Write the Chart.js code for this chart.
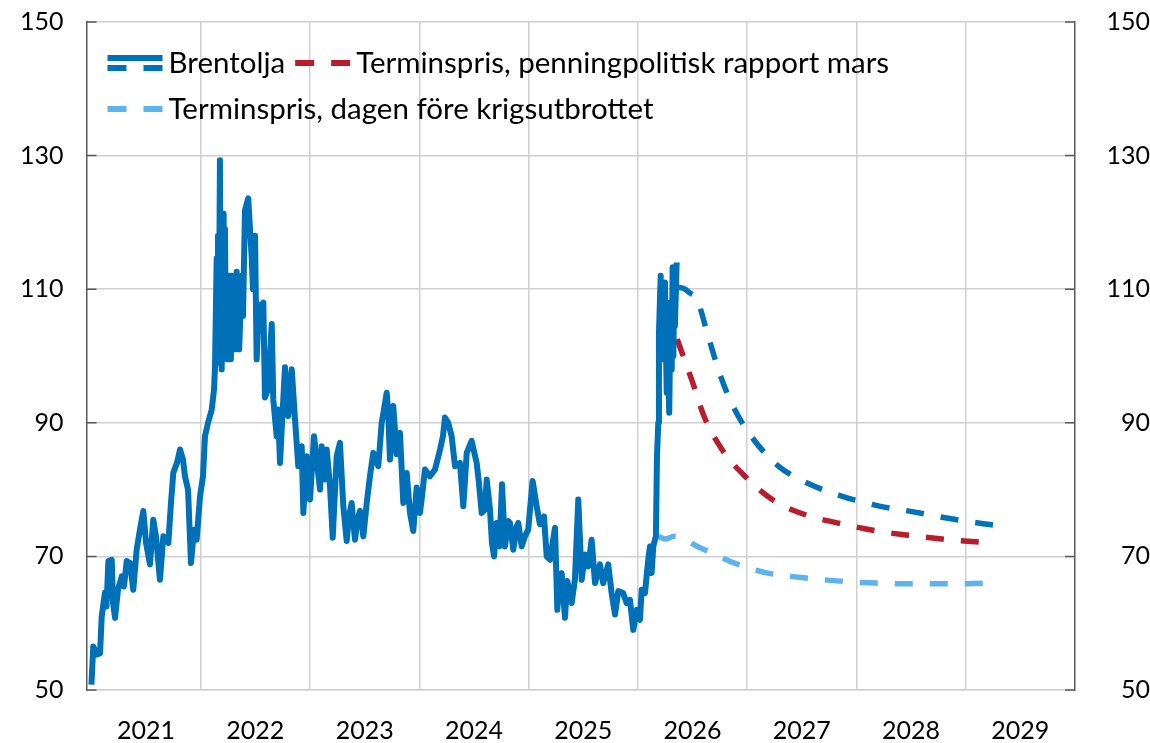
<!DOCTYPE html>
<html>
<head>
<meta charset="utf-8">
<script src="https://cdn.jsdelivr.net/npm/chart.js@4.4.1/dist/chart.umd.min.js"></script>
<style>
  html, body { margin: 0; padding: 0; background: #fff; }
  #wrap { width: 1150px; height: 743px; }
</style>
</head>
<body>
<div id="wrap"><canvas id="chart"></canvas></div>
<script>
// Brent crude, USD per barrel
const brentDates = [2021.000, 2021.017, 2021.051, 2021.079, 2021.094, 2021.124, 2021.138, 2021.155, 2021.186, 2021.198,
  2021.216, 2021.243, 2021.277, 2021.298, 2021.323, 2021.353, 2021.383, 2021.414, 2021.444, 2021.475,
  2021.500, 2021.536, 2021.566, 2021.591, 2021.627, 2021.658, 2021.704, 2021.728, 2021.749, 2021.783,
  2021.811, 2021.838, 2021.856, 2021.884, 2021.911, 2021.939, 2021.963, 2021.994, 2022.021, 2022.039,
  2022.067, 2022.101, 2022.122, 2022.131, 2022.146, 2022.150, 2022.158, 2022.165, 2022.176, 2022.181,
  2022.186, 2022.192, 2022.198, 2022.204, 2022.210, 2022.216, 2022.222, 2022.230, 2022.236, 2022.241,
  2022.250, 2022.258, 2022.268, 2022.276, 2022.284, 2022.292, 2022.305, 2022.315, 2022.329, 2022.336,
  2022.344, 2022.352, 2022.375, 2022.387, 2022.405, 2022.435, 2022.451, 2022.467, 2022.478, 2022.497,
  2022.512, 2022.524, 2022.542, 2022.573, 2022.588, 2022.616, 2022.650, 2022.664, 2022.695, 2022.707,
  2022.726, 2022.744, 2022.771, 2022.801, 2022.833, 2022.863, 2022.893, 2022.924, 2022.939, 2022.970,
  2023.000, 2023.037, 2023.064, 2023.092, 2023.107, 2023.137, 2023.153, 2023.183, 2023.208, 2023.244,
  2023.274, 2023.305, 2023.336, 2023.357, 2023.381, 2023.412, 2023.430, 2023.457, 2023.488, 2023.519,
  2023.549, 2023.579, 2023.625, 2023.656, 2023.677, 2023.702, 2023.714, 2023.732, 2023.762, 2023.793,
  2023.823, 2023.854, 2023.885, 2023.915, 2023.945, 2023.976, 2024.006, 2024.025, 2024.052, 2024.098,
  2024.144, 2024.190, 2024.217, 2024.235, 2024.265, 2024.296, 2024.327, 2024.372, 2024.403, 2024.434,
  2024.479, 2024.525, 2024.546, 2024.571, 2024.601, 2024.617, 2024.647, 2024.665, 2024.684, 2024.708,
  2024.734, 2024.757, 2024.784, 2024.814, 2024.830, 2024.860, 2024.891, 2024.906, 2024.937, 2024.967,
  2024.997, 2025.013, 2025.037, 2025.074, 2025.104, 2025.141, 2025.166, 2025.196, 2025.242, 2025.263,
  2025.278, 2025.303, 2025.333, 2025.354, 2025.394, 2025.424, 2025.455, 2025.486, 2025.516, 2025.546,
  2025.577, 2025.608, 2025.653, 2025.683, 2025.729, 2025.760, 2025.791, 2025.821, 2025.866, 2025.898,
  2025.928, 2025.958, 2025.989, 2026.019, 2026.035, 2026.065, 2026.095, 2026.111, 2026.126, 2026.141,
  2026.165, 2026.175, 2026.187, 2026.193, 2026.209, 2026.215, 2026.222, 2026.232, 2026.248, 2026.264,
  2026.270, 2026.280, 2026.287, 2026.300, 2026.310, 2026.318, 2026.325, 2026.332, 2026.339, 2026.355];
const brentValues = [50.8, 56.5, 55.3, 55.5, 61, 64.6, 62.5, 69.3, 69.5, 63,
  60.8, 65, 67, 65.5, 69.3, 69, 65, 71, 74, 76.8,
  72, 68.8, 75.5, 73, 66.5, 73, 72, 78, 82.5, 84,
  86, 84.5, 82, 80, 69, 74, 72.5, 79, 82, 88,
  90, 92, 95, 98.5, 114.6, 99, 118, 100, 129.3, 99,
  116, 98, 112, 103, 121.3, 100, 119, 101, 110, 99.5,
  112, 100, 109, 99.5, 112, 102, 110, 101, 112.6, 103,
  108, 101, 112, 106, 121.8, 123.6, 119, 114.6, 110, 118,
  99.5, 104, 107.5, 108, 93.8, 95, 104.8, 93.5, 88, 92,
  84, 90, 98.3, 91, 98, 90.5, 83.5, 86.5, 76.5, 85,
  78.5, 88, 84, 80, 86.5, 81.5, 86, 80.5, 72.8, 85,
  87, 77.5, 72.3, 76, 78, 72.5, 75, 76.8, 73, 78,
  82, 85.5, 83.5, 90, 92, 94.5, 92, 84.5, 92.5, 85.3,
  88.5, 78, 82.5, 76.5, 73.8, 80.3, 76.5, 79, 83, 82,
  83, 86, 88, 90.8, 90, 88, 83.5, 84, 77.5, 85.5,
  87.3, 84, 81, 76.5, 77, 81.5, 77, 72, 70, 75,
  71.5, 80.8, 71.5, 75.3, 75, 71, 74.5, 75, 71.5, 73,
  74, 77, 81.3, 77.5, 74.8, 76, 70, 69.5, 74.3, 62,
  65, 67.5, 60.8, 66.3, 63, 66.5, 78.5, 66.5, 70.3, 68.5,
  72.5, 66, 68.8, 66, 68.8, 64.5, 61.3, 64.8, 64.5, 63,
  63.5, 59, 62, 60.5, 65, 64.5, 69.5, 71.5, 67.5, 71.5,
  73, 85, 90, 103.5, 112, 100, 110, 99.5, 111, 94.5,
  106, 96, 91.5, 108, 98, 113.3, 100, 110, 104.5, 114];

// Futures curve now (blue dashed, part of "Brentolja")
const futuresNowDates = [2026.352, 2026.42, 2026.48, 2026.54, 2026.65, 2026.75, 2026.87, 2027.06, 2027.28, 2027.56, 2027.87, 2028.19, 2028.51, 2028.84, 2029.16, 2029.25];
const futuresNowValues = [110.3, 110.1, 109.4, 108.5, 102.6, 97.3, 92.5, 87.5, 83.6, 80.9, 79.0, 77.6, 76.7, 75.7, 74.9, 74.7];

// Futures, monetary policy report March (red dashed)
const futuresMarchDates = [2026.36, 2026.50, 2026.61, 2026.77, 2026.98, 2027.24, 2027.54, 2027.86, 2028.19, 2028.51, 2028.84, 2029.16, 2029.25];
const futuresMarchValues = [102.5, 96.1, 90.8, 86.0, 82.0, 78.4, 76.2, 74.9, 73.8, 73.1, 72.5, 72.1, 72.0];

// Futures, day before the outbreak of war (light blue dashed)
const futuresPreWarDates = [2026.19, 2026.25, 2026.33, 2026.57, 2026.90, 2027.19, 2027.52, 2027.85, 2028.18, 2028.51, 2028.83, 2029.16, 2029.25];
const futuresPreWarValues = [73.0, 72.6, 73.0, 71.3, 68.9, 67.5, 66.8, 66.3, 66.0, 65.9, 65.9, 66.0, 66.1];

const yearLabels = ['2021', '2022', '2023', '2024', '2025', '2026', '2027', '2028', '2029'];
const yTicks = [50, 70, 90, 110, 130, 150];

const legendRows = [
  [{ label: 'Brentolja', key: 'brent' }, { label: 'Terminspris, penningpolitisk rapport mars', key: 'march' }],
  [{ label: 'Terminspris, dagen före krigsutbrottet', key: 'prewar' }]
];

const BLUE = '#0070b8';
const RED = '#b81d2e';
const LIGHT = '#5cb3ee';
const FONT = 'Lato';

const toPoints = (xs, ys) => xs.map((x, i) => ({ x: x, y: ys[i] }));

// inward tick marks on both value axes
const axisTicks = {
  id: 'axisTicks',
  afterDraw(chart) {
    const { ctx, chartArea: a, scales: { y } } = chart;
    ctx.save();
    ctx.strokeStyle = '#595959';
    ctx.lineWidth = 1.5;
    yTicks.forEach(v => {
      const py = y.getPixelForValue(v);
      ctx.beginPath();
      ctx.moveTo(a.left, py); ctx.lineTo(a.left + 10, py);
      ctx.moveTo(a.right - 10, py); ctx.lineTo(a.right, py);
      ctx.stroke();
    });
    ctx.restore();
  }
};

// legend drawn inside the plot area
const innerLegend = {
  id: 'innerLegend',
  afterDraw(chart) {
    const { ctx, chartArea: a } = chart;
    const dash = (x, y, color) => {
      ctx.strokeStyle = color;
      ctx.lineWidth = 6;
      ctx.lineCap = 'butt';
      ctx.beginPath();
      ctx.moveTo(x, y); ctx.lineTo(x + 19, y);
      ctx.moveTo(x + 36, y); ctx.lineTo(x + 55, y);
      ctx.stroke();
    };
    ctx.save();
    ctx.font = '29.5px ' + FONT;
    ctx.fillStyle = '#000';
    ctx.textBaseline = 'alphabetic';
    legendRows.forEach((row, r) => {
      const cy = a.top + 41 + r * 46;
      let x = a.left + 21;
      row.forEach(item => {
        if (item.key === 'brent') {
          ctx.strokeStyle = BLUE; ctx.lineWidth = 6;
          ctx.beginPath(); ctx.moveTo(x, cy - 5); ctx.lineTo(x + 55, cy - 5); ctx.stroke();
          dash(x, cy + 5, BLUE);
        } else {
          dash(x, cy, item.key === 'march' ? RED : LIGHT);
        }
        x += 61;
        ctx.fillText(item.label, x, cy + 10);
        x += ctx.measureText(item.label).width + 10;
      });
    });
    ctx.restore();
  }
};

const tickFont = { family: FONT, size: 25 };
const noPad = (s, w) => { s.width = w; s.paddingTop = 0; s.paddingBottom = 0; };

new Chart(document.getElementById('chart'), {
  type: 'line',
  data: {
    datasets: [
      { label: 'Brentolja', data: toPoints(brentDates, brentValues), borderColor: BLUE, borderWidth: 6,
        pointRadius: 0, tension: 0, borderJoinStyle: 'round', order: 0 },
      { label: 'Brentolja termin', data: toPoints(futuresNowDates, futuresNowValues), borderColor: BLUE, borderWidth: 5.5,
        borderDash: [18, 17], pointRadius: 0, cubicInterpolationMode: 'monotone', order: 1 },
      { label: 'Terminspris, penningpolitisk rapport mars', data: toPoints(futuresMarchDates, futuresMarchValues), borderColor: RED,
        borderWidth: 5.5, borderDash: [18, 17], pointRadius: 0, cubicInterpolationMode: 'monotone', order: 2 },
      { label: 'Terminspris, dagen före krigsutbrottet', data: toPoints(futuresPreWarDates, futuresPreWarValues), borderColor: LIGHT,
        borderWidth: 5.5, borderDash: [18, 17], pointRadius: 0, cubicInterpolationMode: 'monotone', order: 3 }
    ]
  },
  options: {
    responsive: true,
    maintainAspectRatio: false,
    animation: false,
    layout: { padding: { top: 22, left: 0, right: 0, bottom: 0 } },
    plugins: { legend: { display: false }, tooltip: { enabled: false } },
    scales: {
      x: {
        type: 'linear', min: 2020.955, max: 2030,
        afterBuildTicks: (s) => {
          const t = [];
          yearLabels.forEach(y => { t.push({ value: +y }); t.push({ value: +y + 0.5 }); });
          s.ticks = t;
        },
        afterFit: (s) => { s.height = 53; },
        ticks: { autoSkip: false, maxRotation: 0, color: '#000', font: tickFont, padding: 26,
          callback: (v) => (v % 1 === 0.5 ? String(Math.floor(v)) : '') },
        grid: { drawTicks: false, lineWidth: 1.5,
          color: (c) => (c.tick && c.tick.value % 1 === 0 && c.tick.value > 2021) ? '#d0d0d0' : 'rgba(0,0,0,0)' },
        border: { color: '#d0d0d0', width: 1.5 }
      },
      y: {
        position: 'left', min: 50, max: 150,
        afterBuildTicks: (s) => { s.ticks = yTicks.map(v => ({ value: v })); },
        afterFit: (s) => noPad(s, 86.5),
        ticks: { color: '#000', font: tickFont, padding: 23 },
        grid: { drawTicks: false, color: '#d0d0d0', lineWidth: 1.5 },
        border: { color: '#595959', width: 1.5 }
      },
      y2: {
        position: 'right', min: 50, max: 150,
        afterBuildTicks: (s) => { s.ticks = yTicks.map(v => ({ value: v })); },
        afterFit: (s) => noPad(s, 75),
        ticks: { color: '#000', font: tickFont, padding: 23, crossAlign: 'far' },
        grid: { drawTicks: false, drawOnChartArea: false },
        border: { color: '#595959', width: 1.5 }
      }
    }
  },
  plugins: [axisTicks, innerLegend]
});
</script>
</body>
</html>
